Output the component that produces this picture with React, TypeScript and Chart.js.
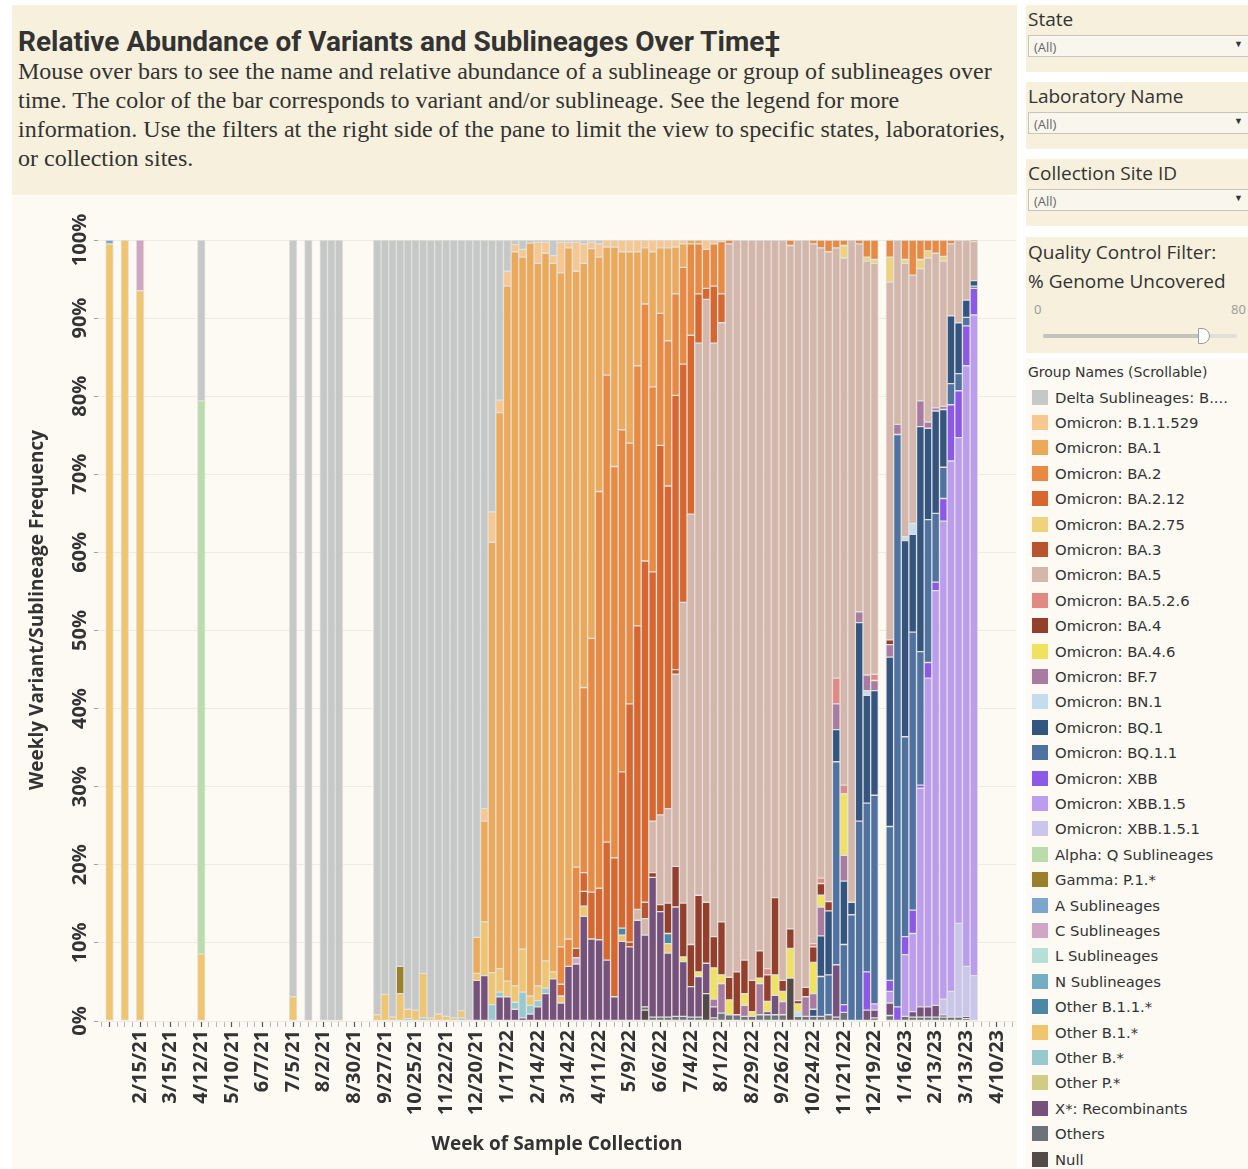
import React, { useEffect, useRef } from "react";
import { Chart, registerables } from "chart.js";
Chart.register(...registerables);

// ---------- categories (weekly) ----------
const WEEKS = [
  "1/11/21","1/18/21","1/25/21","2/1/21","2/8/21","2/15/21","2/22/21","3/1/21","3/8/21","3/15/21","3/22/21","3/29/21","4/5/21","4/12/21","4/19/21","4/26/21","5/3/21","5/10/21","5/17/21","5/24/21","5/31/21","6/7/21","6/14/21","6/21/21","6/28/21","7/5/21","7/12/21","7/19/21","7/26/21","8/2/21","8/9/21","8/16/21","8/23/21","8/30/21","9/6/21","9/13/21","9/20/21","9/27/21","10/4/21","10/11/21","10/18/21","10/25/21","11/1/21","11/8/21","11/15/21","11/22/21","11/29/21","12/6/21","12/13/21","12/20/21","12/27/21",
  "1/3/22","1/10/22","1/17/22","1/24/22","1/31/22","2/7/22","2/14/22","2/21/22","2/28/22","3/7/22","3/14/22","3/21/22","3/28/22","4/4/22","4/11/22","4/18/22","4/25/22","5/2/22","5/9/22","5/16/22","5/23/22","5/30/22","6/6/22","6/13/22","6/20/22","6/27/22","7/4/22","7/11/22","7/18/22","7/25/22","8/1/22","8/8/22","8/15/22","8/22/22","8/29/22","9/5/22","9/12/22","9/19/22","9/26/22","10/3/22","10/10/22","10/17/22","10/24/22","10/31/22","11/7/22","11/14/22","11/21/22","11/28/22","12/5/22","12/12/22","12/19/22","12/26/22",
  "1/2/23","1/9/23","1/16/23","1/23/23","1/30/23","2/6/23","2/13/23","2/20/23","2/27/23","3/6/23","3/13/23","3/20/23","3/27/23","4/3/23","4/10/23","4/17/23","4/24/23"
];

const TICK_LABELS = ["2/15/21","3/15/21","4/12/21","5/10/21","6/7/21","7/5/21","8/2/21","8/30/21","9/27/21","10/25/21","11/22/21","12/20/21","1/17/22","2/14/22","3/14/22","4/11/22","5/9/22","6/6/22","7/4/22","8/1/22","8/29/22","9/26/22","10/24/22","11/21/22","12/19/22","1/16/23","2/13/23","3/13/23","4/10/23"];
const MAJOR_TICKS = ["1/18/21", ...TICK_LABELS];
const Y_TICKS = [0, 10, 20, 30, 40, 50, 60, 70, 80, 90, 100];

// ---------- series values (% of week) ----------
const DELTA = { "4/12/21": 20.6, "7/5/21": 96.9, "7/19/21": 100, "8/2/21": 100, "8/9/21": 100, "8/16/21": 100,
  "9/20/21": 99.2, "9/27/21": 96.6, "10/4/21": 99.5, "10/11/21": 93.0, "10/18/21": 98.5, "10/25/21": 98.6, "11/1/21": 93.9, "11/8/21": 99.6, "11/15/21": 99.1, "11/22/21": 99.4, "11/29/21": 99.6, "12/6/21": 98.7, "12/13/21": 100, "12/20/21": 89.3, "12/27/21": 72.8,
  "1/3/22": 34.8, "1/10/22": 20.5, "1/17/22": 4.0, "1/24/22": 0.6, "1/31/22": 1.2, "2/7/22": 0.4, "2/14/22": 0.3, "2/21/22": 0.3, "2/28/22": 2.0, "3/7/22": 0.3, "3/14/22": 0.3, "3/21/22": 0.3, "3/28/22": 0.5, "4/4/22": 0.3, "4/11/22": 0.5 };
const B_1_1_529 = { "12/27/21": 1.6, "1/3/22": 3.9, "1/10/22": 1.6, "1/17/22": 1.9, "1/24/22": 0.9, "1/31/22": 1.0, "2/14/22": 2.7, "2/21/22": 1.4, "2/28/22": 1.0, "3/7/22": 3.9, "3/14/22": 0.7, "3/21/22": 3.7, "3/28/22": 2.5, "4/4/22": 0.8, "4/11/22": 1.7, "4/18/22": 0.9, "4/25/22": 0.9, "5/2/22": 1.5, "5/9/22": 1.5, "5/16/22": 1.5, "5/23/22": 1.0, "5/30/22": 1.5, "6/6/22": 1.0, "6/13/22": 1.0, "6/20/22": 0.9, "6/27/22": 0.5, "7/18/22": 1.2, "7/25/22": 0.5, "8/1/22": 0.2 };
const BA_1 = { "12/20/21": 4.6, "12/27/21": 12.9, "1/3/22": 55.1, "1/10/22": 71.2, "1/17/22": 89.0, "1/24/22": 94.0, "1/31/22": 88.6, "2/7/22": 96.4, "2/14/22": 92.5, "2/21/22": 90.6, "2/28/22": 90.7, "3/7/22": 86.3, "3/14/22": 88.5, "3/21/22": 76.3, "3/28/22": 54.3, "4/4/22": 49.9, "4/11/22": 30.0, "4/18/22": 16.4, "4/25/22": 28.1, "5/2/22": 22.8, "5/9/22": 24.5, "5/16/22": 14.6, "5/23/22": 7.2, "5/30/22": 17.3, "6/6/22": 8.4, "6/13/22": 11.9, "6/20/22": 6.0, "6/27/22": 3.0, "7/4/22": 0.5, "7/11/22": 0.5 };
const BA_2 = { "3/7/22": 4.8, "3/14/22": 3.5, "3/21/22": 10.4, "3/28/22": 23.7, "4/4/22": 32.5, "4/11/22": 50.8, "4/18/22": 59.8, "4/25/22": 50.1, "5/2/22": 43.8, "5/9/22": 33.4, "5/16/22": 33.3, "5/23/22": 32.9, "5/30/22": 23.7, "6/6/22": 16.9, "6/13/22": 18.6, "6/20/22": 13.0, "6/27/22": 12.4, "7/4/22": 11.7, "7/11/22": 6.4, "7/18/22": 5.0, "7/25/22": 5.4, "8/1/22": 6.7, "8/8/22": 0.5, "10/3/22": 0.7, "10/24/22": 0.5, "10/31/22": 1.0, "11/7/22": 1.5, "11/14/22": 1.0, "11/21/22": 0.7, "12/5/22": 0.5, "12/12/22": 2.2, "12/19/22": 2.5, "1/2/23": 2.2, "1/16/23": 2.5, "1/23/23": 4.5, "1/30/23": 2.5, "2/6/23": 1.4, "2/13/23": 1.7, "2/20/23": 2.1, "2/27/23": 0.5, "3/20/23": 0.2 };
const BA_2_12 = { "3/7/22": 1.5, "3/28/22": 2.4, "4/4/22": 6.0, "4/11/22": 6.6, "4/18/22": 15.1, "4/25/22": 17.8, "5/2/22": 20.0, "5/9/22": 30.5, "5/16/22": 36.3, "5/23/22": 43.7, "5/30/22": 31.9, "6/6/22": 47.3, "6/13/22": 41.3, "6/20/22": 35.1, "6/27/22": 30.5, "7/4/22": 22.9, "7/11/22": 6.3, "7/18/22": 1.4, "7/25/22": 7.3, "8/1/22": 3.7 };
const BA_2_75 = { "11/21/22": 1.6, "12/12/22": 0.5, "12/19/22": 0.5, "1/2/23": 3.2, "1/16/23": 0.5, "1/30/23": 1.2, "2/6/23": 0.9, "2/20/23": 0.6 };
const BA_3 = { "3/21/22": 1.2, "3/28/22": 1.9, "5/9/22": 0.6, "5/23/22": 2.1, "6/20/22": 0.6 };
const BA_5 = { "5/16/22": 1.4, "5/23/22": 2.1, "5/30/22": 6.6, "6/6/22": 11.5, "6/13/22": 12.1, "6/20/22": 24.6, "6/27/22": 38.5, "7/4/22": 55.1, "7/11/22": 70.7, "7/18/22": 77.2, "7/25/22": 76.0, "8/1/22": 76.7, "8/8/22": 93.9, "8/15/22": 93.7, "8/22/22": 92.2, "8/29/22": 94.8, "9/5/22": 91.0, "9/12/22": 93.3, "9/19/22": 84.2, "9/26/22": 94.8, "10/3/22": 87.5, "10/10/22": 97.4, "10/17/22": 95.7, "10/24/22": 89.6, "10/31/22": 80.7, "11/7/22": 83.2, "11/14/22": 55.1, "11/21/22": 67.5, "11/28/22": 84.8, "12/5/22": 47.1, "12/12/22": 53.0, "12/19/22": 52.6, "1/2/23": 45.8, "1/9/23": 23.6, "1/16/23": 35.0, "1/23/23": 31.8, "1/30/23": 16.9, "2/6/23": 21.0, "2/13/23": 19.8, "2/20/23": 18.6, "2/27/23": 9.2, "3/6/23": 10.6, "3/13/23": 7.7, "3/20/23": 5.0 };
const BA_5_2_6 = { "9/12/22": 0.8, "10/24/22": 0.4, "10/31/22": 0.7, "11/14/22": 3.3, "11/21/22": 1.1, "12/19/22": 0.8 };
const BA_4 = { "5/30/22": 0.6, "6/6/22": 0.9, "6/13/22": 3.9, "6/20/22": 5.2, "6/27/22": 6.9, "7/4/22": 5.4, "7/11/22": 9.8, "7/18/22": 7.8, "7/25/22": 4.0, "8/1/22": 6.8, "8/8/22": 2.9, "8/15/22": 5.5, "8/22/22": 4.3, "8/29/22": 4.0, "9/5/22": 3.5, "9/12/22": 3.4, "9/19/22": 9.9, "9/26/22": 1.4, "10/3/22": 2.5, "10/10/22": 0.4, "10/17/22": 1.2, "10/24/22": 2.0, "10/31/22": 1.5, "11/7/22": 1.2, "1/2/23": 0.6 };
const BA_4_6 = { "6/27/22": 0.6, "7/11/22": 0.6, "7/25/22": 4.0, "8/1/22": 1.1, "8/8/22": 1.9, "8/22/22": 1.5, "8/29/22": 0.6, "9/5/22": 0.7, "9/12/22": 1.3, "9/19/22": 2.6, "9/26/22": 1.3, "10/3/22": 3.8, "10/10/22": 1.0, "10/24/22": 4.0, "10/31/22": 1.5, "11/21/22": 7.9 };
const BF_7 = { "7/25/22": 1.0, "8/1/22": 3.8, "8/22/22": 1.4, "9/5/22": 4.0, "9/26/22": 1.7, "10/17/22": 2.5, "10/24/22": 2.0, "10/31/22": 3.7, "11/14/22": 3.3, "11/21/22": 3.3, "12/5/22": 1.4, "12/12/22": 2.0, "12/19/22": 1.3, "1/2/23": 1.6, "1/9/23": 1.3, "1/30/23": 3.3, "2/6/23": 0.8, "2/13/23": 0.4, "2/20/23": 0.4 };
const BN_1 = { "10/10/22": 0.6, "12/12/22": 0.6, "1/16/23": 0.5, "1/23/23": 1.4 };
const BQ_1 = { "10/24/22": 0.9, "10/31/22": 5.2, "11/7/22": 8.2, "11/14/22": 4.1, "11/21/22": 8.1, "11/28/22": 1.6, "12/5/22": 25.4, "12/12/22": 13.8, "12/19/22": 13.4, "1/2/23": 21.7, "1/16/23": 25.1, "1/23/23": 12.5, "1/30/23": 28.8, "2/6/23": 11.7, "2/13/23": 13.1, "2/20/23": 7.4, "2/27/23": 8.7, "3/6/23": 6.5, "3/13/23": 2.2, "3/20/23": 0.7 };
const BQ_1_1 = { "10/31/22": 5.1, "11/7/22": 5.1, "11/14/22": 26.0, "11/21/22": 7.7, "11/28/22": 13.6, "12/5/22": 25.6, "12/12/22": 21.6, "12/19/22": 26.7, "1/2/23": 19.7, "1/9/23": 73.3, "1/16/23": 25.6, "1/23/23": 35.6, "1/30/23": 17.1, "2/6/23": 18.3, "2/13/23": 8.8, "2/20/23": 4.0, "2/27/23": 2.7, "3/6/23": 2.2, "3/13/23": 1.1, "3/20/23": 0.3 };
const XBB = { "11/21/22": 1.0, "12/12/22": 4.9, "1/2/23": 1.4, "1/9/23": 1.8, "1/16/23": 2.3, "1/23/23": 3.0, "1/30/23": 0.4, "2/6/23": 2.0, "2/13/23": 1.1, "2/20/23": 2.9, "2/27/23": 7.2, "3/6/23": 6.0, "3/13/23": 5.1, "3/20/23": 3.4 };
const XBB_1_5 = { "12/19/22": 0.8, "1/2/23": 1.5, "1/16/23": 7.9, "1/23/23": 10.0, "1/30/23": 28.0, "2/6/23": 42.1, "2/13/23": 53.1, "2/20/23": 61.2, "2/27/23": 67.9, "3/6/23": 62.2, "3/13/23": 76.9, "3/20/23": 84.6 };
const XBB_1_5_1 = { "2/20/23": 2.0, "2/27/23": 3.3, "3/6/23": 12.0, "3/13/23": 6.4, "3/20/23": 5.8 };
const ALPHA_Q = { "4/12/21": 70.8 };
const GAMMA_P1 = { "10/11/21": 3.5 };
const A_SUB = { "1/18/21": 0.5 };
const C_SUB = { "2/15/21": 6.5, "3/21/22": 0.8 };
const L_SUB = {};
const N_SUB = {};
const OTHER_B_1_1 = { "5/2/22": 0.9, "6/13/22": 1.3 };
const OTHER_B_1 = { "1/18/21": 99.5, "2/1/21": 100, "2/15/21": 93.5, "4/12/21": 8.6, "7/5/21": 3.1, "9/20/21": 0.8, "9/27/21": 3.4, "10/4/21": 0.5, "10/11/21": 3.5, "10/18/21": 1.2, "10/25/21": 1.4, "11/1/21": 5.7, "11/8/21": 0.4, "11/15/21": 0.9, "11/22/21": 0.6, "11/29/21": 0.4, "12/6/21": 0.9, "12/20/21": 0.9, "12/27/21": 6.9, "1/3/22": 4.1, "1/10/22": 3.0, "1/17/22": 2.0, "1/24/22": 2.1, "1/31/22": 5.5, "2/7/22": 1.2, "2/14/22": 1.9, "2/21/22": 3.5, "2/28/22": 0.9, "3/7/22": 0.9, "3/28/22": 1.3, "5/2/22": 0.8, "6/13/22": 1.2 };
const OTHER_B = { "10/18/21": 0.3, "11/1/21": 0.4, "12/6/21": 0.4, "1/3/22": 2.1, "1/10/22": 0.6, "1/24/22": 0.9, "1/31/22": 3.3, "2/7/22": 1.1, "2/14/22": 0.8, "2/21/22": 0.7 };
const OTHER_P = {};
const X_RECOMB = { "12/20/21": 5.2, "12/27/21": 5.8, "1/10/22": 3.1, "1/17/22": 3.1, "1/24/22": 1.5, "1/31/22": 0.4, "2/7/22": 0.9, "2/14/22": 1.8, "2/21/22": 3.5, "2/28/22": 5.4, "3/7/22": 2.3, "3/14/22": 7.0, "3/21/22": 7.3, "3/28/22": 13.4, "4/4/22": 10.5, "4/11/22": 10.4, "4/18/22": 7.8, "4/25/22": 3.1, "5/2/22": 10.2, "5/9/22": 9.5, "5/16/22": 12.9, "5/23/22": 9.2, "5/30/22": 17.9, "6/6/22": 13.5, "6/13/22": 8.2, "6/20/22": 14.0, "6/27/22": 7.0, "7/4/22": 3.9, "7/11/22": 5.2, "7/18/22": 3.9, "7/25/22": 1.4, "9/12/22": 0.4, "9/19/22": 2.5, "11/14/22": 6.7, "12/12/22": 1.4, "12/19/22": 1.0, "1/2/23": 1.6, "1/23/23": 0.7, "1/30/23": 1.3, "2/6/23": 1.3, "2/13/23": 1.5, "2/20/23": 0.3, "3/13/23": 0.3 };
const OTHERS = { "5/23/22": 0.4, "5/30/22": 0.5, "6/6/22": 0.5, "6/13/22": 0.5, "6/20/22": 0.6, "6/27/22": 0.6, "7/4/22": 0.5, "7/11/22": 0.5, "7/25/22": 0.4, "8/1/22": 1.0, "8/8/22": 0.8, "8/15/22": 0.8, "8/22/22": 0.6, "8/29/22": 0.6, "9/5/22": 0.8, "9/12/22": 0.8, "9/19/22": 0.8, "9/26/22": 0.8, "10/10/22": 0.6, "10/17/22": 0.6, "10/24/22": 0.6, "10/31/22": 0.6, "11/7/22": 0.8, "11/14/22": 0.5, "11/21/22": 1.1, "12/19/22": 0.4, "1/2/23": 0.7, "1/16/23": 0.6, "1/23/23": 0.5, "1/30/23": 0.5, "2/6/23": 0.5, "2/13/23": 0.5, "2/20/23": 0.5, "2/27/23": 0.5, "3/6/23": 0.5, "3/13/23": 0.3 };
const NULL_GROUP = { "5/23/22": 1.4, "7/18/22": 3.5, "10/3/22": 5.5 };

// legend order (top of stack first)
const GROUP_NAMES = ["Delta Sublineages: B....", "Omicron: B.1.1.529", "Omicron: BA.1", "Omicron: BA.2", "Omicron: BA.2.12", "Omicron: BA.2.75", "Omicron: BA.3", "Omicron: BA.5", "Omicron: BA.5.2.6", "Omicron: BA.4", "Omicron: BA.4.6", "Omicron: BF.7", "Omicron: BN.1", "Omicron: BQ.1", "Omicron: BQ.1.1", "Omicron: XBB", "Omicron: XBB.1.5", "Omicron: XBB.1.5.1", "Alpha: Q Sublineages", "Gamma: P.1.*", "A Sublineages", "C Sublineages", "L Sublineages", "N Sublineages", "Other B.1.1.*", "Other B.1.*", "Other B.*", "Other P.*", "X*: Recombinants", "Others", "Null"];
const GROUP_COLORS = ["#c6c7c7", "#f8c790", "#eca95a", "#e88a42", "#d8672f", "#eed27c", "#b8552f", "#d5b6aa", "#e08a83", "#933f2b", "#f0e15f", "#a97ba1", "#c3ddef", "#33557f", "#4f72a0", "#8c58e8", "#bc9cec", "#c9c5eb", "#badcaa", "#9b802b", "#7da6cd", "#d0a5c6", "#b6dfd7", "#74aec3", "#4c88a6", "#f0c56f", "#98c9cf", "#d0cc85", "#75517c", "#6c717a", "#544b48"];
const GROUP_VALUES: Record<string, number>[] = [DELTA, B_1_1_529, BA_1, BA_2, BA_2_12, BA_2_75, BA_3, BA_5, BA_5_2_6, BA_4, BA_4_6, BF_7, BN_1, BQ_1, BQ_1_1, XBB, XBB_1_5, XBB_1_5_1, ALPHA_Q, GAMMA_P1, A_SUB, C_SUB, L_SUB, N_SUB, OTHER_B_1_1, OTHER_B_1, OTHER_B, OTHER_P, X_RECOMB, OTHERS, NULL_GROUP];

const TITLE = "Relative Abundance of Variants and Sublineages Over Time\u2021";
const DESCRIPTION_LINES = [
  "Mouse over bars to see the name and relative abundance of a sublineage or group of sublineages over",
  "time. The color of the bar corresponds to variant and/or sublineage. See the legend for more",
  "information. Use the filters at the right side of the pane to limit the view to specific states, laboratories,",
  "or collection sites.",
];
const X_TITLE = "Week of Sample Collection";
const Y_TITLE = "Weekly Variant/Sublineage Frequency";
const FILTERS = ["State", "Laboratory Name", "Collection Site ID"];

const AXIS_FONT = "'Open Sans', sans-serif";
const TEXT_COLOR = "#333333";

const yDecor = {
  id: "yDecor",
  afterDraw(chart: any) {
    const { ctx } = chart;
    const y = chart.scales.y;
    ctx.save();
    ctx.fillStyle = TEXT_COLOR;
    ctx.textAlign = "center";
    ctx.textBaseline = "middle";
    ctx.font = `bold 20px ${AXIS_FONT}`;
    for (const v of Y_TICKS) {
      const py = y.getPixelForValue(v);
      ctx.save();
      ctx.translate(68, py);
      ctx.rotate(-Math.PI / 2);
      ctx.fillText(v + "%", 0, 0);
      ctx.restore();
    }
    ctx.font = `bold 19px ${AXIS_FONT}`;
    ctx.save();
    ctx.translate(26, 414);
    ctx.rotate(-Math.PI / 2);
    ctx.fillText(Y_TITLE, 0, 0);
    ctx.restore();
    ctx.restore();
  },
};

function ChartCanvas() {
  const ref = useRef<HTMLCanvasElement>(null);
  useEffect(() => {
    const majors = new Set(MAJOR_TICKS);
    const labelsShown = new Set(TICK_LABELS);
    const datasets = GROUP_NAMES.map((name, i) => ({
      label: name,
      data: WEEKS.map((w) => (GROUP_VALUES[i][w] !== undefined ? GROUP_VALUES[i][w] : null)),
      backgroundColor: GROUP_COLORS[i],
      borderColor: "rgba(222,222,218,0.9)",
      borderWidth: 1,
      borderSkipped: false as const,
      barPercentage: 1,
      categoryPercentage: 1,
      stack: "s",
    })).reverse();

    const chart = new Chart(ref.current as HTMLCanvasElement, {
      type: "bar",
      data: { labels: WEEKS, datasets },
      plugins: [yDecor],
      options: {
        animation: false,
        responsive: false,
        devicePixelRatio: 1,
        layout: { padding: { top: 44, right: 1, left: 0, bottom: 0 } },
        plugins: { legend: { display: false }, tooltip: { enabled: false } },
        scales: {
          x: {
            stacked: true,
            border: { display: false },
            grid: {
              display: true,
              offset: false,
              drawOnChartArea: false,
              drawTicks: true,
              tickLength: 6,
              tickColor: (c: any) => (majors.has(WEEKS[c.index]) ? "#555555" : "#b8b8b8"),
              tickWidth: (c: any) => (majors.has(WEEKS[c.index]) ? 1.2 : 1),
            },
            ticks: {
              autoSkip: false,
              minRotation: 90,
              maxRotation: 90,
              padding: 3,
              color: TEXT_COLOR,
              font: { family: AXIS_FONT, size: 20, weight: "bold" },
              callback: (_v: any, i: number) => (labelsShown.has(WEEKS[i]) ? WEEKS[i] : ""),
            },
            title: {
              display: true,
              text: X_TITLE,
              color: TEXT_COLOR,
              font: { family: AXIS_FONT, size: 19, weight: "bold" },
              padding: { top: 0, bottom: 13 },
            },
            afterFit: (s: any) => {
              s.height = 148;
              s.paddingLeft = 0;
              s.paddingRight = 0;
            },
          },
          y: {
            stacked: true,
            min: 0,
            max: 100,
            border: { display: false },
            grid: { color: "#eeebe2", lineWidth: 1, drawTicks: true, tickLength: 4, tickColor: "#a0a0a0" },
            ticks: { stepSize: 10, display: false },
            afterFit: (s: any) => {
              s.width = 86;
              s.paddingTop = 0;
              s.paddingBottom = 0;
            },
          },
        },
      } as any,
    });
    return () => chart.destroy();
  }, []);
  return <canvas ref={ref} width={1005} height={973} style={{ display: "block" }} />;
}

export default function App() {
  const filterTops = [5, 82, 159];
  return (
    <div style={{ position: "relative", width: 1248, height: 1169, background: "#ffffff", overflow: "hidden" }}>
      <style>{`body{margin:0;}`}</style>
      {/* title block */}
      <div style={{ position: "absolute", left: 12, top: 5, width: 1005, height: 190, background: "#f6f0dc" }}>
        <div style={{ position: "absolute", left: 6, top: 21, font: "bold 28px Roboto, sans-serif", color: TEXT_COLOR, lineHeight: "32px", whiteSpace: "nowrap" }}>{TITLE}</div>
        <div style={{ position: "absolute", left: 6, top: 52, font: "24px 'Liberation Serif', serif", color: TEXT_COLOR, lineHeight: "29px", whiteSpace: "nowrap" }}>
          {DESCRIPTION_LINES.map((l, i) => (
            <div key={i}>{l}</div>
          ))}
        </div>
      </div>
      {/* chart panel */}
      <div style={{ position: "absolute", left: 12, top: 196, width: 1005, height: 973, background: "#fcfaf3" }}>
        <ChartCanvas />
      </div>
      {/* filters */}
      {FILTERS.map((f, i) => (
        <div key={f} style={{ position: "absolute", left: 1026, top: filterTops[i], width: 222, height: 67, background: "#f6f0dc" }}>
          <div style={{ position: "absolute", left: 2, top: 0, font: "19px 'Open Sans', sans-serif", color: TEXT_COLOR, lineHeight: "28px" }}>{f}</div>
          <div style={{ position: "absolute", left: 2, top: 30, width: 230, height: 22, background: "#f9f6ee", border: "1px solid #c9c5ba", boxSizing: "border-box" }}>
            <span style={{ position: "absolute", left: 5, top: 2, font: "13px 'Open Sans', sans-serif", color: "#666" }}>(All)</span>
            <span style={{ position: "absolute", left: 205, top: 3, fontSize: 9, color: "#333" }}>{"\u25BC"}</span>
          </div>
        </div>
      ))}
      <div style={{ position: "absolute", left: 1026, top: 237, width: 222, height: 116, background: "#f6f0dc" }}>
        <div style={{ position: "absolute", left: 2, top: 1, font: "19px 'Open Sans', sans-serif", color: TEXT_COLOR, lineHeight: "29px", whiteSpace: "nowrap" }}>
          <div>Quality Control Filter:</div>
          <div>% Genome Uncovered</div>
        </div>
        <span style={{ position: "absolute", left: 8, top: 63, font: "13px 'Open Sans', sans-serif", color: "#9a9a9a" }}>0</span>
        <span style={{ position: "absolute", left: 205, top: 63, font: "13px 'Open Sans', sans-serif", color: "#9a9a9a" }}>80</span>
        <div style={{ position: "absolute", left: 17, top: 97, width: 194, height: 4, background: "#e2e0da", borderRadius: 2 }} />
        <div style={{ position: "absolute", left: 17, top: 97, width: 160, height: 4, background: "#c4c2bd", borderRadius: 2 }} />
        <div style={{ position: "absolute", left: 172, top: 91, width: 12, height: 16, background: "#ffffff", border: "1px solid #9a9a9a", borderRadius: "0 9px 9px 0", boxSizing: "border-box" }} />
      </div>
      {/* legend */}
      <div style={{ position: "absolute", left: 1026, top: 358, width: 222, height: 811, background: "#fcfaf3" }}>
        <div style={{ position: "absolute", left: 2, top: 5, font: "14px 'DejaVu Sans', sans-serif", color: TEXT_COLOR, lineHeight: "18px", whiteSpace: "nowrap" }}>Group Names (Scrollable)</div>
        {GROUP_NAMES.map((n, i) => (
          <div key={n} style={{ position: "absolute", left: 0, top: 26.5 + i * 25.4, height: 25, display: "flex", alignItems: "center", whiteSpace: "nowrap" }}>
            <div style={{ width: 16, height: 15, marginLeft: 6, background: GROUP_COLORS[i] }} />
            <div style={{ marginLeft: 7, font: "14.8px 'DejaVu Sans', sans-serif", color: TEXT_COLOR }}>{n}</div>
          </div>
        ))}
      </div>
    </div>
  );
}
